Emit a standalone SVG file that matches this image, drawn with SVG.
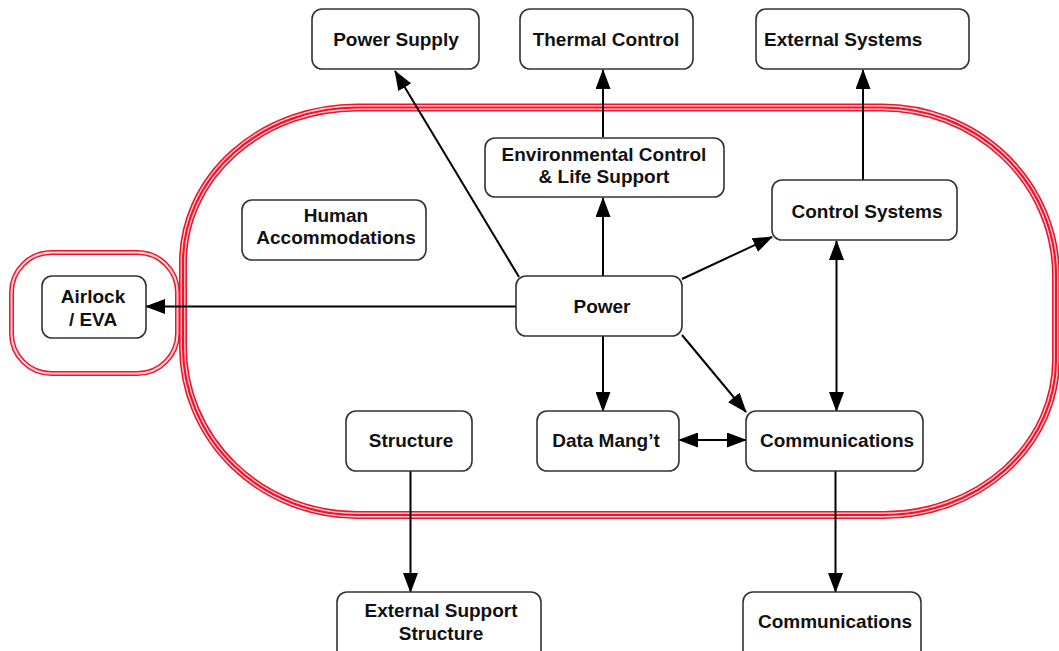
<svg xmlns="http://www.w3.org/2000/svg" width="1059" height="651" viewBox="0 0 1059 651">
<style>
.box{fill:#fff;stroke:#333;stroke-width:1.6}
.t{font-family:"Liberation Sans",Arial,sans-serif;font-weight:bold;font-size:19px;fill:#111;text-anchor:middle}
.tl{text-anchor:start}
.c{fill:none;stroke:#000;stroke-width:2}
.r1{fill:none;stroke:#f0142a}
.w1{fill:none;stroke:#ffd2d8}
</style>
<defs>
<marker id="ah" markerUnits="userSpaceOnUse" markerWidth="20" markerHeight="15" refX="19" refY="7.5" orient="auto-start-reverse" viewBox="0 0 20 15">
<path d="M0,0 L20,7.5 L0,15 z" fill="#000"/>
</marker>
</defs>
<rect width="1059" height="651" fill="#fff"/>
<g id="boundary">
<path id="stadium" d="M357 107.5 L882 107.5 A174 168 0 0 1 1056 275.5 L1056 360 A172 155 0 0 1 884 515 L357 515 A174 168 0 0 1 183 347 L183 262 A174 154.5 0 0 1 357 107.5 Z" class="r1" stroke-width="8"/>
<path d="M357 107.5 L882 107.5 A174 168 0 0 1 1056 275.5 L1056 360 A172 155 0 0 1 884 515 L357 515 A174 168 0 0 1 183 347 L183 262 A174 154.5 0 0 1 357 107.5 Z" class="w1" stroke-width="4.8"/>
<path d="M357 107.5 L882 107.5 A174 168 0 0 1 1056 275.5 L1056 360 A172 155 0 0 1 884 515 L357 515 A174 168 0 0 1 183 347 L183 262 A174 154.5 0 0 1 357 107.5 Z" class="r1" stroke-width="2.2"/>
<rect id="airlock-zone" x="11.5" y="252.5" width="166" height="121" rx="40" class="r1" stroke-width="5"/>
<rect x="11.5" y="252.5" width="166" height="121" rx="40" class="w1" stroke-width="2"/>
</g>
<g id="connectors">
<line class="c" x1="519" y1="277" x2="395" y2="71" marker-end="url(#ah)"/>
<line class="c" x1="603" y1="276" x2="603" y2="198" marker-end="url(#ah)"/>
<line class="c" x1="603" y1="137" x2="603" y2="70" marker-end="url(#ah)"/>
<line class="c" x1="863" y1="180" x2="863" y2="70" marker-end="url(#ah)"/>
<line class="c" x1="682" y1="279" x2="772" y2="237" marker-end="url(#ah)"/>
<line class="c" x1="516" y1="306.5" x2="146" y2="306.5" marker-end="url(#ah)"/>
<line class="c" x1="603" y1="336" x2="603" y2="411" marker-end="url(#ah)"/>
<line class="c" x1="682" y1="335" x2="746" y2="412" marker-end="url(#ah)"/>
<line class="c" x1="679" y1="440" x2="746" y2="440" marker-start="url(#ah)" marker-end="url(#ah)"/>
<line class="c" x1="836.5" y1="241" x2="836.5" y2="411" marker-start="url(#ah)" marker-end="url(#ah)"/>
<line class="c" x1="410.5" y1="471" x2="410.5" y2="592" marker-end="url(#ah)"/>
<line class="c" x1="835.5" y1="471" x2="835.5" y2="592" marker-end="url(#ah)"/>
</g>
<g id="power-supply"><rect class="box" x="312" y="9" width="167" height="60" rx="10"/><text class="t" x="396" y="46">Power Supply</text></g>
<g id="thermal-control"><rect class="box" x="520" y="9" width="173" height="60" rx="10"/><text class="t" x="606" y="46">Thermal Control</text></g>
<g id="external-systems"><rect class="box" x="756" y="9" width="213" height="60" rx="10"/><text class="t tl" x="764" y="46">External Systems</text></g>
<g id="eclss"><rect class="box" x="485" y="138" width="239" height="59" rx="10"/><text class="t" x="604" y="161">Environmental Control</text><text class="t" x="604" y="183">&amp; Life Support</text></g>
<g id="human-accommodations"><rect class="box" x="242" y="200" width="184" height="60" rx="10"/><text class="t" x="336" y="222">Human</text><text class="t" x="336" y="244">Accommodations</text></g>
<g id="control-systems"><rect class="box" x="772" y="180" width="185" height="60" rx="10"/><text class="t" x="867" y="218">Control Systems</text></g>
<g id="airlock"><rect class="box" x="42" y="276" width="104" height="62" rx="10"/><text class="t" x="93" y="303">Airlock</text><text class="t" x="93" y="326">/ EVA</text></g>
<g id="power"><rect class="box" x="516" y="276" width="166" height="60" rx="10"/><text class="t" x="602" y="313">Power</text></g>
<g id="structure"><rect class="box" x="346" y="411" width="126" height="60" rx="10"/><text class="t" x="411" y="447">Structure</text></g>
<g id="data-mangt"><rect class="box" x="537" y="411" width="142" height="60" rx="10"/><text class="t" x="606" y="447">Data Mang’t</text></g>
<g id="communications"><rect class="box" x="746" y="411" width="177" height="60" rx="10"/><text class="t" x="837" y="447">Communications</text></g>
<g id="external-support-structure"><rect class="box" x="337" y="592" width="204" height="70" rx="10"/><text class="t" x="441" y="617">External Support</text><text class="t" x="441" y="640">Structure</text></g>
<g id="communications-ext"><rect class="box" x="743" y="592" width="178" height="70" rx="10"/><text class="t" x="835" y="628">Communications</text></g>
</svg>
